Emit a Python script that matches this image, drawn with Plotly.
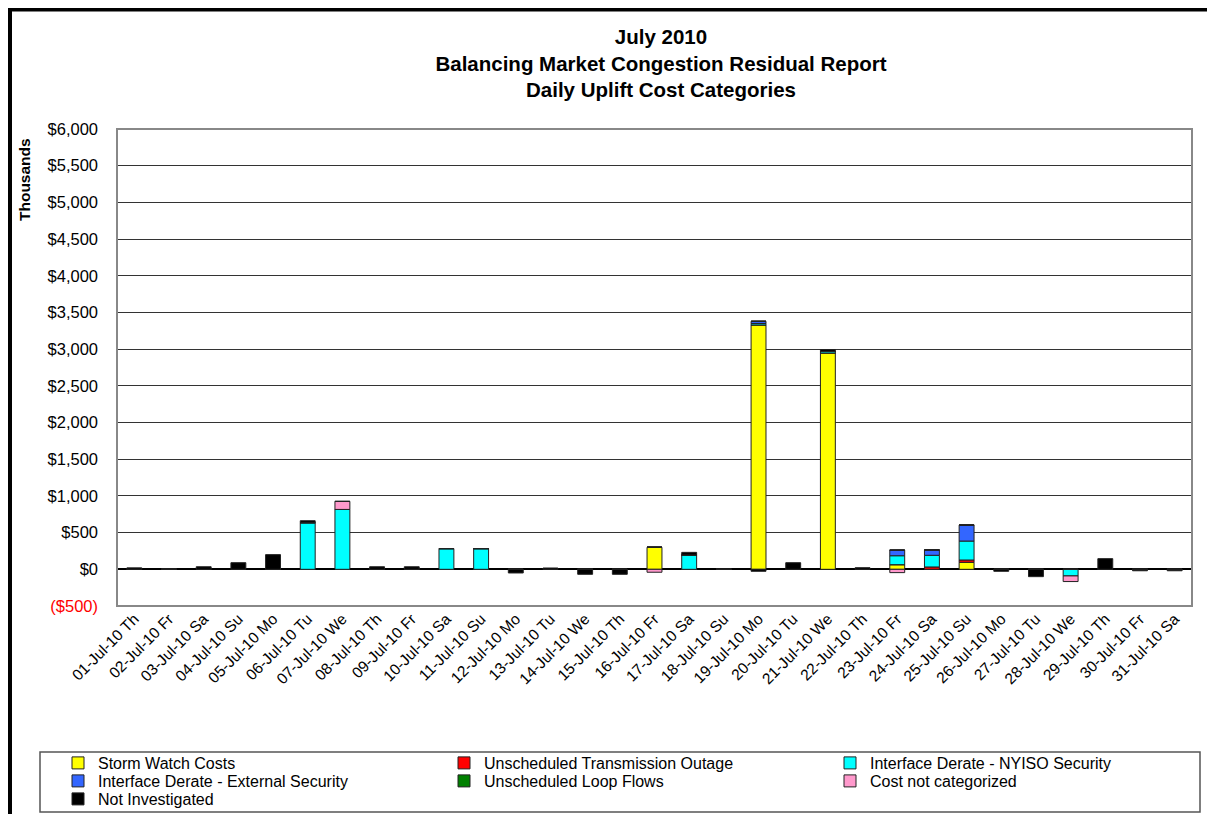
import plotly.graph_objects as go

days = ["01-Jul-10 Th","02-Jul-10 Fr","03-Jul-10 Sa","04-Jul-10 Su","05-Jul-10 Mo","06-Jul-10 Tu",
        "07-Jul-10 We","08-Jul-10 Th","09-Jul-10 Fr","10-Jul-10 Sa","11-Jul-10 Su","12-Jul-10 Mo",
        "13-Jul-10 Tu","14-Jul-10 We","15-Jul-10 Th","16-Jul-10 Fr","17-Jul-10 Sa","18-Jul-10 Su",
        "19-Jul-10 Mo","20-Jul-10 Tu","21-Jul-10 We","22-Jul-10 Th","23-Jul-10 Fr","24-Jul-10 Sa",
        "25-Jul-10 Su","26-Jul-10 Mo","27-Jul-10 Tu","28-Jul-10 We","29-Jul-10 Th","30-Jul-10 Fr",
        "31-Jul-10 Sa"]

#                 01   02   03   04   05   06   07   08   09   10   11   12   13   14   15   16   17   18   19    20   21    22   23   24   25   26   27    28   29   30   31
storm_watch    = [0,   0,   0,   0,   0,   0,   0,   0,   0,   0,   0,   0,   0,   0,   0,   300, 0,   0,   3330, 0,   2948, 0,   63,  0,   95,  0,   0,    0,   0,   0,   0]
trans_outage   = [0,   0,   0,   0,   0,   0,   0,   0,   0,   0,   0,   0,   0,   0,   0,   0,   0,   0,   0,    0,   0,    0,   0,   32,  32,  0,   0,    0,   0,   0,   0]
nyiso_security = [0,   0,   0,   0,   0,   635, 816, 0,   0,   282, 282, 0,   0,   0,   0,   0,   195, 0,   20,   0,   20,   0,   122, 159, 258, 0,   0,    -90, 0,   0,   0]
ext_security   = [0,   0,   0,   0,   0,   0,   0,   0,   0,   0,   0,   0,   0,   0,   0,   0,   0,   0,   30,   0,   0,    0,   77,  73,  218, 0,   0,    0,   0,   0,   0]
loop_flows     = [0]*31
not_categorized= [0,   0,   0,   0,   0,   0,   110, 0,   0,   0,   0,   0,   0,   0,   0,   -40, 0,   0,   0,    0,   0,    0,   -45, 0,   0,   0,   0,    -77, 0,   0,   0]
not_investig   = [20,  3,   35,  90,  200, 27,  0,   35,  35,  0,   0,   -50, 18,  -68, -68, 0,   36,  0,   -27,  90,  25,   22,  0,   0,   0,   -27, -100, 0,   145, -20, -20]

series = [
    ("Storm Watch Costs", storm_watch, "#FFFF00", "legend"),
    ("Unscheduled Transmission Outage", trans_outage, "#FF0000", "legend"),
    ("Interface Derate - NYISO Security", nyiso_security, "#00FFFF", "legend"),
    ("Interface Derate - External Security", ext_security, "#3366FF", "legend2"),
    ("Unscheduled Loop Flows", loop_flows, "#008000", "legend2"),
    ("Cost not categorized", not_categorized, "#FF99CC", "legend2"),
    ("Not Investigated", not_investig, "#000000", "legend3"),
]

tick_vals = list(range(-500, 6001, 500))
tick_text = ["<span style='color:#FF0000'>($500)</span>"] + ["${:,}".format(v) for v in tick_vals[1:]]

fig = go.Figure()
for name, vals, col, lg in series:
    fig.add_trace(go.Bar(x=days, y=vals, name=name, legend=lg,
                         marker=dict(color=col, line=dict(color="#222222", width=1))))

OFF = 8  # page body margin
W, H = 1215 - OFF, 814 - OFF
PL, PR, PT, PB = 117, 1192, 129, 606   # plot area in page pixels
def px(x): return (x - PL) / (PR - PL)
def py(y): return (PB - y) / (PB - PT)

FONT = "Liberation Sans, Arial"

def legend_row(ycenter):
    return dict(orientation="h", x=px(58), y=py(ycenter - 17), xanchor="left", yanchor="top",
                entrywidth=341, entrywidthmode="pixels", itemwidth=30, tracegroupgap=0,
                font=dict(size=16, family=FONT), bgcolor="rgba(0,0,0,0)", borderwidth=0,
                traceorder="normal")

fig.update_layout(
    width=W, height=H,
    margin=dict(l=PL - OFF, r=W - (PR - OFF), t=PT - OFF, b=H - (PB - OFF), autoexpand=False),
    barmode="relative", bargap=0.57,
    paper_bgcolor="white", plot_bgcolor="white",
    font=dict(family=FONT, size=15, color="black"),
    title=dict(text="<b>July 2010<br>Balancing Market Congestion Residual Report<br>Daily Uplift Cost Categories</b>",
               x=px(661), xref="paper", xanchor="center", y=1 - (44 - OFF) / H, yref="container", yanchor="top",
               font=dict(size=20.5, family=FONT, color="black")),
    xaxis=dict(tickangle=-45, tickfont=dict(size=15.5), showgrid=False, ticks="", showline=False,
               categoryorder="array", categoryarray=days),
    yaxis=dict(range=[-500, 6000], tickvals=tick_vals, ticktext=tick_text, tickfont=dict(size=16.5),
               ticklabelstandoff=18,
               showgrid=True, gridcolor="#333333", gridwidth=1, zeroline=True, zerolinecolor="black",
               zerolinewidth=1.5, ticks="", showline=False),
    showlegend=True,
    legend=legend_row(763),
    legend2=legend_row(781),
    legend3=legend_row(799),
    shapes=[
        dict(type="rect", xref="paper", yref="paper", x0=0, x1=1, y0=0, y1=1,
             line=dict(color="#888888", width=2), layer="above"),
        dict(type="rect", xref="paper", yref="paper", x0=px(40), x1=px(1200), y0=py(752), y1=py(812),
             line=dict(color="#555555", width=1.5)),
        dict(type="rect", xref="paper", yref="paper", x0=px(10), x1=px(1213), y0=py(9.5), y1=py(830),
             line=dict(color="black", width=4)),
    ],
    annotations=[
        dict(text="<b>Thousands</b>", textangle=-90, xref="paper", yref="paper", x=px(24), y=py(180),
             xanchor="center", yanchor="middle", showarrow=False, font=dict(size=15.5, family=FONT)),
    ],
)

fig.write_html("out.html")
